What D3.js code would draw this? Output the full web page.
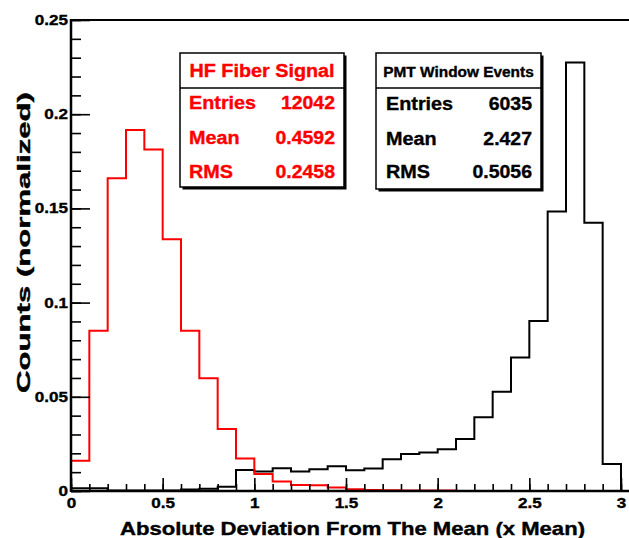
<!DOCTYPE html>
<html><head><meta charset="utf-8">
<script src="https://cdn.jsdelivr.net/npm/d3@7"></script>
<style>
html,body{margin:0;padding:0;background:#fff;}
svg{display:block;font-family:"Liberation Sans",Arial,Helvetica,sans-serif;font-weight:bold;}
</style></head><body>
<svg id="c" width="629" height="538"></svg>
<script>
// ---- data ----
const binEdges = d3.range(0, 31).map(i => +(i * 0.1).toFixed(1));
const hfSignal = [0.0161, 0.0851, 0.1660, 0.1916, 0.1813, 0.1336, 0.0851, 0.0598, 0.0329, 0.0172,
                  0.0090, 0.0050, 0.0032, 0.0030, 0.0018, 0.0009, 0.0005, 0.0004, 0.0003, 0.0003,
                  0.0003, 0, 0, 0, 0, 0, 0, 0, 0, 0];
const pmtWindow = [0.0015, 0.0015, 0.0003, 0.0003, 0.0003, 0.0003, 0.0008, 0.0012, 0.0022, 0.0111,
                   0.0103, 0.0121, 0.0104, 0.0116, 0.0132, 0.0110, 0.0120, 0.0168, 0.0196, 0.0204,
                   0.0222, 0.0276, 0.0391, 0.0527, 0.0708, 0.0902, 0.1483, 0.2275, 0.1424, 0.0143];
const xTickValues = [0, 0.5, 1, 1.5, 2, 2.5, 3];
const xTickLabels = ["0", "0.5", "1", "1.5", "2", "2.5", "3"];
const yTickValues = [0, 0.05, 0.1, 0.15, 0.2, 0.25];
const yTickLabels = ["0", "0.05", "0.1", "0.15", "0.2", "0.25"];
const hfStats = {title: "HF Fiber Signal", rows: [["Entries", "12042"], ["Mean", "0.4592"], ["RMS", "0.2458"]]};
const pmtStats = {title: "PMT Window Events", rows: [["Entries", "6035"], ["Mean", "2.427"], ["RMS", "0.5056"]]};
const xTitle = "Absolute Deviation From The Mean (x Mean)";
const yTitle = "Counts (normalized)";

// ---- helpers ----
function stretch(sel, f) {
  sel.each(function () {
    const w = this.getComputedTextLength();
    this.setAttribute("textLength", w * f);
    this.setAttribute("lengthAdjust", "spacingAndGlyphs");
  });
  return sel;
}

// ---- layout ----
const svg = d3.select("#c");
const L = 71, R = 621, T = 20, B = 491;
const x = d3.scaleLinear().domain([0, 3]).range([L, R]);
const y = d3.scaleLinear().domain([0, 0.25]).range([B, T]);

// histograms
function histPath(vals) {
  const pts = [[binEdges[0], 0]];
  vals.forEach((v, i) => { pts.push([binEdges[i], v]); pts.push([binEdges[i + 1], v]); });
  pts.push([binEdges[binEdges.length - 1], 0]);
  return d3.line().x(d => x(d[0])).y(d => y(d[1]))(pts);
}
svg.append("path").attr("d", histPath(pmtWindow)).attr("fill", "none").attr("stroke", "#000").attr("stroke-width", 2);
svg.append("path").attr("d", histPath(hfSignal)).attr("fill", "none").attr("stroke", "#ff0000").attr("stroke-width", 2);

// frame top line
svg.append("line").attr("x1", L).attr("x2", 629).attr("y1", T).attr("y2", T).attr("stroke", "#000").attr("stroke-width", 2);

// x axis
const xMinor = d3.range(0, 31).map(i => i * 0.1);
svg.append("g").attr("transform", `translate(0,${B})`)
  .call(d3.axisBottom(x).tickValues(xMinor).tickSize(-7).tickFormat(""))
  .call(g => g.select(".domain").remove())
  .selectAll("line").attr("stroke-width", 1.6);
const gx = svg.append("g").attr("transform", `translate(0,${B})`)
  .call(d3.axisBottom(x).tickValues(xTickValues).tickSize(-13).tickPadding(7)
    .tickFormat((d, i) => xTickLabels[i]));
gx.select(".domain").remove();
gx.selectAll("line").attr("stroke-width", 1.6);
stretch(gx.selectAll("text").attr("font-size", 14).attr("font-family", null).attr("fill", "#000")
  .attr("stroke", "#000").attr("stroke-width", 0.35), 1.22);
svg.append("line").attr("x1", L).attr("x2", 629).attr("y1", B).attr("y2", B).attr("stroke", "#000").attr("stroke-width", 2.5);

// y axis
const yMinor = d3.range(0, 26).map(i => i * 0.01);
svg.append("g").attr("transform", `translate(${L},0)`)
  .call(d3.axisLeft(y).tickValues(yMinor).tickSize(-10).tickFormat(""))
  .call(g => g.select(".domain").remove())
  .selectAll("line").attr("stroke-width", 1.6);
const gy = svg.append("g").attr("transform", `translate(${L},0)`)
  .call(d3.axisLeft(y).tickValues(yTickValues).tickSize(-19).tickPadding(3)
    .tickFormat((d, i) => yTickLabels[i]));
gy.select(".domain").remove();
gy.selectAll("line").attr("stroke-width", 1.6);
stretch(gy.selectAll("text").attr("font-size", 14).attr("font-family", null).attr("fill", "#000")
  .attr("stroke", "#000").attr("stroke-width", 0.35), 1.22);
svg.append("line").attr("x1", L).attr("x2", L).attr("y1", T - 1).attr("y2", B + 1).attr("stroke", "#000").attr("stroke-width", 2.5);

// axis titles
svg.append("text").attr("x", 120).attr("y", 535)
  .attr("font-size", 19).attr("stroke", "#000").attr("stroke-width", 0.4)
  .attr("textLength", 465).attr("lengthAdjust", "spacingAndGlyphs").text(xTitle);
svg.append("text").attr("transform", "translate(30,393) rotate(-90)")
  .attr("font-size", 19).attr("stroke", "#000").attr("stroke-width", 0.4)
  .attr("textLength", 301).attr("lengthAdjust", "spacingAndGlyphs").text(yTitle);

// stats boxes
function statBox(s, x0, x1, y0, y1, sep, color, titleSize, rowsY, titleY, padL, padR) {
  const g = svg.append("g");
  g.append("rect").attr("x", x0 + 2.5).attr("y", y0 + 2.5).attr("width", x1 - x0).attr("height", y1 - y0).attr("fill", "#000");
  g.append("rect").attr("x", x0).attr("y", y0).attr("width", x1 - x0).attr("height", y1 - y0)
    .attr("fill", "#fff").attr("stroke", "#000").attr("stroke-width", 1.5);
  g.append("line").attr("x1", x0).attr("x2", x1).attr("y1", sep).attr("y2", sep).attr("stroke", "#000").attr("stroke-width", 1.5);
  stretch(g.append("text").attr("x", (x0 + x1) / 2).attr("y", titleY).attr("text-anchor", "middle")
    .attr("dominant-baseline", "central").attr("font-size", titleSize).attr("fill", color)
    .attr("stroke", color).attr("stroke-width", 0.35).text(s.title), 1.1);
  s.rows.forEach((r, i) => {
    stretch(g.append("text").attr("x", x0 + padL).attr("y", rowsY[i]).attr("dominant-baseline", "central")
      .attr("font-size", 18).attr("fill", color).attr("stroke", color).attr("stroke-width", 0.35).text(r[0]), 1.1);
    stretch(g.append("text").attr("x", x1 - padR).attr("y", rowsY[i]).attr("dominant-baseline", "central")
      .attr("text-anchor", "end").attr("font-size", 18).attr("fill", color).attr("stroke", color).attr("stroke-width", 0.35).text(r[1]), 1.08);
  });
}
statBox(hfStats, 180, 344, 53, 187, 88, "#ff0000", 18, [103, 138, 172], 71, 9, 9);
statBox(pmtStats, 376, 541, 53, 189, 88, "#000", 14, [104, 139, 172], 72, 10, 9);
</script>
</body></html>
